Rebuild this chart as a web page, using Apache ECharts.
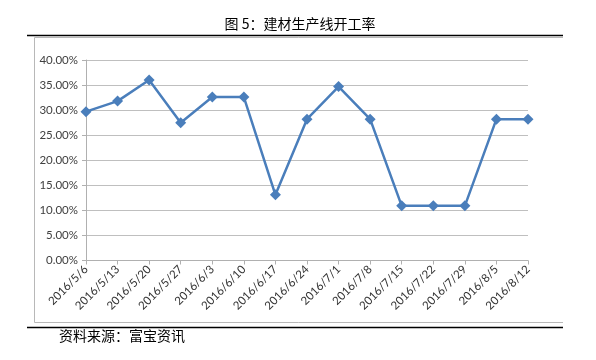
<!DOCTYPE html>
<html>
<head>
<meta charset="utf-8">
<script src="https://cdn.jsdelivr.net/npm/echarts@6/dist/echarts.min.js"></script>
<style>
html,body{margin:0;padding:0;background:#fff;}
#c{width:596px;height:360px;}
</style>
</head>
<body>
<div id="c"></div>
<script>
var categories = ['2016/5/6','2016/5/13','2016/5/20','2016/5/27','2016/6/3','2016/6/10','2016/6/17','2016/6/24','2016/7/1','2016/7/8','2016/7/15','2016/7/22','2016/7/29','2016/8/5','2016/8/12'];
var values = [0.297, 0.318, 0.360, 0.275, 0.326, 0.326, 0.131, 0.282, 0.347, 0.282, 0.109, 0.109, 0.109, 0.282, 0.282];
var titleText = '图 5：建材生产线开工率';
var sourceText = '资料来源：富宝资讯';

var chart = echarts.init(document.getElementById('c'));
chart.setOption({
  animation: false,
  backgroundColor: '#fff',
  title: {
    text: titleText,
    left: 295, top: 12, textAlign: 'center',
    textStyle: {fontFamily: 'Noto Sans CJK SC', fontSize: 14, fontWeight: 'normal', color: '#000'}
  },
  graphic: [
    {type: 'line', shape: {x1: 27, y1: 35.5, x2: 563, y2: 35.5}, style: {stroke: '#000', lineWidth: 1.5}},
    {type: 'polyline', shape: {points: [[563, 37.5], [34.5, 37.5], [34.5, 322.5], [563, 322.5]]}, style: {stroke: '#b8b8b8', lineWidth: 1, fill: null}},
    {type: 'line', shape: {x1: 27, y1: 327.5, x2: 563, y2: 327.5}, style: {stroke: '#000', lineWidth: 1.5}},
    {type: 'text', left: 59, top: 329, style: {text: sourceText, font: '14px "Noto Sans CJK SC"', fill: '#000'}}
  ],
  grid: {left: 86, right: 68, top: 60, bottom: 99.5},
  xAxis: {
    type: 'category',
    data: categories,
    boundaryGap: false,
    axisLine: {lineStyle: {color: '#b0b0b0'}},
    axisTick: {show: true, length: 4, lineStyle: {color: '#b0b0b0'}},
    axisLabel: {rotate: 45, margin: 7, fontFamily: 'Lato', fontSize: 11.5, color: '#333', interval: 0}
  },
  yAxis: {
    type: 'value',
    min: 0, max: 0.4, interval: 0.05,
    axisLine: {show: true, lineStyle: {color: '#b0b0b0'}},
    axisTick: {show: true, length: 4, lineStyle: {color: '#b0b0b0'}},
    splitLine: {lineStyle: {color: '#bfbfbf', width: 1}},
    axisLabel: {
      margin: 8, fontFamily: 'Lato', fontSize: 11.5, color: '#404040',
      formatter: function (v) { return (v * 100).toFixed(2) + '%'; }
    }
  },
  series: [{
    type: 'line',
    data: values,
    symbol: 'diamond',
    symbolSize: 11,
    lineStyle: {color: '#4a7ebb', width: 2.5},
    itemStyle: {color: '#4a7ebb'}
  }]
});
</script>
</body>
</html>
